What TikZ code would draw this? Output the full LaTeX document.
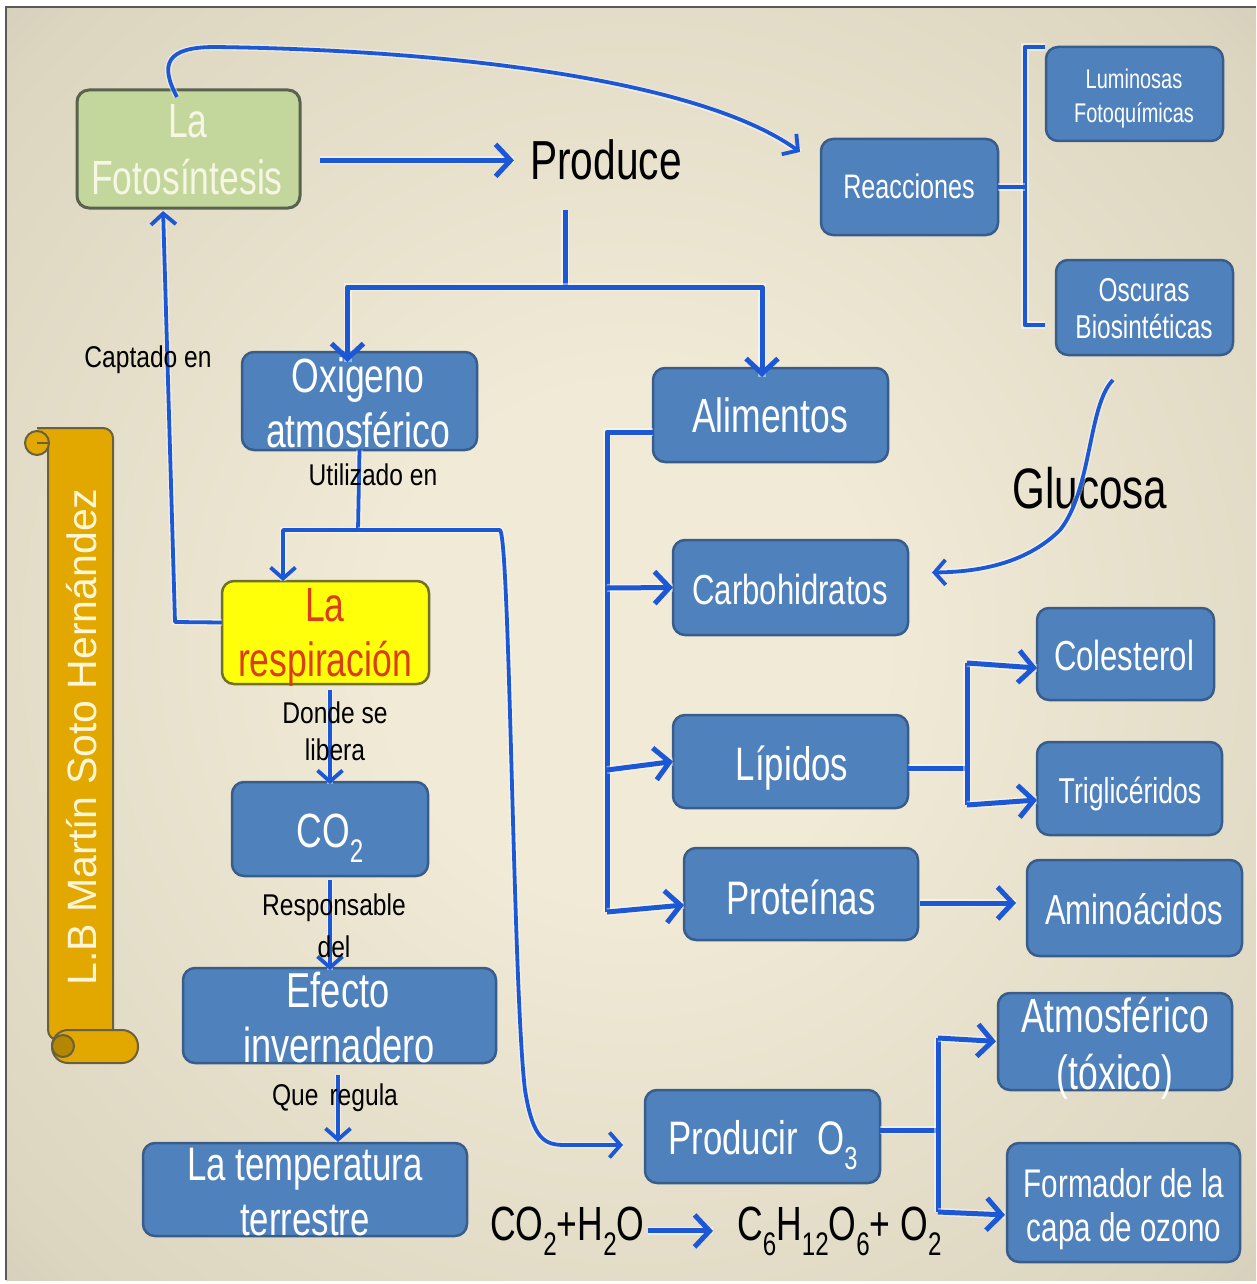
\documentclass[tikz,border=0pt]{standalone}
\usepackage{fontspec}
\usepackage{graphicx}
\setmainfont{Liberation Sans}
\newfontfamily\bxf[FakeStretch=0.74]{Liberation Sans}
\newfontfamily\lbf[FakeStretch=0.82]{Liberation Sans}
\usetikzlibrary{arrows.meta}
\definecolor{boxblue}{RGB}{79,129,189}
\definecolor{boxline}{RGB}{56,93,138}
\definecolor{grfill}{RGB}{195,214,155}
\definecolor{grline}{RGB}{88,98,78}
\definecolor{grtext}{RGB}{246,246,228}
\definecolor{yefill}{RGB}{255,255,10}
\definecolor{yeline}{RGB}{112,112,40}
\definecolor{redtext}{RGB}{218,62,22}
\definecolor{arrowblue}{RGB}{28,88,214}
\definecolor{bgc}{RGB}{240,234,214}
\definecolor{bgm}{RGB}{220,213,192}
\definecolor{bge}{RGB}{174,169,156}
\definecolor{gold}{RGB}{226,168,0}
\definecolor{goldline}{RGB}{105,96,64}
\definecolor{scrolltxt}{RGB}{255,246,215}
\pgfdeclareradialshading{bgsh}{\pgfpoint{0bp}{0bp}}{color(0bp)=(bgc); color(10bp)=(bgc); color(33bp)=(bgm); color(55bp)=(bge); color(75bp)=(bge)}
\newcommand\fs[1]{\fontsize{#1pt}{#1pt}\selectfont}
\newcommand\dn[1]{\raisebox{-0.32em}{\scalebox{0.68}{#1}}}
\newcommand\mkbox[6]{\node[#1, minimum width={#5pt-#3pt}, minimum height={#6pt-#4pt}] (#2) at ({(#3+#5)/2},{(#4+#6)/2}) {};}
\tikzset{
  bluebox/.style={draw=boxline, fill=boxblue, line width=2.5pt, rounded corners=12pt, inner sep=0pt, outer sep=0pt},
  greenbox/.style={bluebox, draw=grline, fill=grfill, line width=3pt},
  yellowbox/.style={bluebox, draw=yeline, fill=yefill},
  btx/.style={anchor=base, inner sep=0pt, text=white, font=\bxf},
  lbl/.style={anchor=base, inner sep=0pt, text=black, font=\lbf\fs{30}},
  glow/.style={preaction={draw=white, draw opacity=0.45, line width=#1, -}},
  conn/.style={draw=arrowblue, line width=5pt, line join=round, glow=8pt},
  connarr/.style={conn, -{Straight Barb[length=15pt,width=32pt]}},
  thinc/.style={draw=arrowblue, line width=3.8pt, line join=round, glow=6.5pt},
  thinarr/.style={thinc, -{Straight Barb[length=11pt,width=25pt]}},
  scrollst/.style={draw=goldline, fill=gold, line width=2pt},
}
\begin{document}
\begin{tikzpicture}[x=1pt,y=-1pt]
% background
\fill[white] (0,0) rectangle (1256,1284);
\shade[shading=bgsh] (6,7) rectangle (1256,1280);
\draw[line width=1.5pt, black!65] (6,1280) -- (6,7) -- (1256,7);

% scroll
\draw[scrollst, rounded corners=10pt] (37,428) -- (113,428) -- (113,1040) -- (48,1040) -- (48,445);
\draw[scrollst] (37,443) circle (12pt);
\draw[goldline, line width=1.5pt] (37,443) -- (48,443);
\draw[scrollst, rounded corners=16pt] (52,1030) rectangle (138,1063);
\draw[scrollst, fill=gold!80!black] (63,1046) circle (11pt);
\node[rotate=90, inner sep=0pt, text=scrolltxt, font=\fs{41}] (auth) at (82,737) {L.B Martín Soto Hernández};

% boxes
\mkbox{greenbox}{fot}{77}{90}{300}{208}
\mkbox{bluebox}{reac}{821}{139}{998}{235}
\mkbox{bluebox}{lum}{1046}{47}{1223}{141}
\mkbox{bluebox}{osc}{1056}{260}{1233}{355}
\mkbox{bluebox}{oxi}{242}{352}{477}{450}
\mkbox{bluebox}{ali}{653}{368}{888}{462}
\mkbox{bluebox}{car}{673}{540}{908}{635}
\mkbox{bluebox}{lip}{673}{715}{908}{808}
\mkbox{bluebox}{pro}{684}{848}{918}{940}
\mkbox{bluebox}{col}{1037}{608}{1214}{700}
\mkbox{bluebox}{tri}{1037}{742}{1222}{835}
\mkbox{bluebox}{ami}{1027}{860}{1242}{956}
\mkbox{yellowbox}{res}{222}{581}{429}{684}
\mkbox{bluebox}{cod}{232}{782}{428}{876}
\mkbox{bluebox}{efe}{183}{968}{496}{1063}
\mkbox{bluebox}{tem}{143}{1143}{467}{1236}
\mkbox{bluebox}{poz}{645}{1090}{880}{1183}
\mkbox{bluebox}{atm}{998}{993}{1232}{1090}
\mkbox{bluebox}{frm}{1007}{1143}{1240}{1262}

% box texts
\node[btx, text=grtext] (fot-a) at (188,138) {\fs{48}La};
\node[btx, text=grtext] (fot-b) at (187,195) {\fs{48}Fotosíntesis};
\node[btx, text=black] (produce) at (606,180) {\fs{55}Produce};
\node[btx] (reac-a) at (909,199) {\fs{34}Reacciones};
\node[btx] (lum-a) at (1134,89) {\fs{27}Luminosas};
\node[btx] (lum-b) at (1134,123) {\fs{27}Fotoquímicas};
\node[btx] (osc-a) at (1144,301) {\fs{33}Oscuras};
\node[btx] (osc-b) at (1144,338) {\fs{33}Biosintéticas};
\node[btx] (oxi-a) at (358,392) {\fs{48}Oxigeno};
\node[btx] (oxi-b) at (358,447) {\fs{48}atmosférico};
\node[btx] (ali-a) at (770,432) {\fs{48}Alimentos};
\node[btx] (car-a) at (790,604) {\fs{42}Carbohidratos};
\node[btx] (lip-a) at (792,780) {\fs{47}Lípidos};
\node[btx] (pro-a) at (801,914) {\fs{47}Proteínas};
\node[btx] (col-a) at (1124,670) {\fs{42}Colesterol};
\node[btx] (tri-a) at (1130,803) {\fs{36}Triglicéridos};
\node[btx] (ami-a) at (1134,924) {\fs{42}Aminoácidos};
\node[btx, text=redtext] (res-a) at (325,621) {\fs{48}La};
\node[btx, text=redtext] (res-b) at (325,676) {\fs{48}respiración};
\node[btx] (cod-a) at (330,847) {\fs{48}CO\dn{2}};
\node[btx] (efe-a) at (338,1007) {\fs{49}Efecto};
\node[btx] (efe-b) at (339,1062) {\fs{49}invernadero};
\node[btx] (tem-a) at (305,1180) {\fs{47}La temperatura};
\node[btx] (tem-b) at (305,1235) {\fs{47}terrestre};
\node[btx] (poz-a) at (763,1154) {\fs{47}Producir\ \ O\dn{3}};
\node[btx] (atm-a) at (1115,1032) {\fs{48}Atmosférico};
\node[btx] (atm-b) at (1115,1089) {\fs{48}(tóxico)};
\node[btx] (frm-a) at (1124,1197) {\fs{40}Formador de la};
\node[btx] (frm-b) at (1124,1241) {\fs{40}capa de ozono};
\node[btx, text=black] (glu) at (1090,508) {\fs{57}Glucosa};
\node[btx, text=black, anchor=base west] (eq1) at (490,1240) {\fs{48}CO\dn{2}+H\dn{2}O};
\node[btx, text=black, anchor=base west] (eq2) at (737,1240) {\fs{48}C\dn{6}H\dn{12}O\dn{6}+ O\dn{2}};

% connectors
\coordinate (pt) at (565,210);
\coordinate (pj) at (565,287);
\coordinate (uj) at (358,530);
\coordinate (bt) at (1025,47);
\coordinate (bb) at (1025,325);
\coordinate (av0) at (607,432);
\coordinate (av1) at (607,588);
\coordinate (av2) at (607,770);
\coordinate (av3) at (607,912);
\coordinate (lv0) at (967,768);
\coordinate (lv1) at (967,663);
\coordinate (lv2) at (967,805);
\coordinate (pv0) at (938,1130);
\coordinate (pv1) at (938,1038);
\coordinate (pv2) at (938,1212);

\draw[connarr, shorten <=20pt, shorten >=16pt] (fot.east |- produce.west) -- (produce.west);
\draw[conn] (pt) -- (pj);
\draw[connarr, shorten >=-10pt] (pj) -| ([xshift=-12pt]oxi.north);
\draw[connarr, shorten >=-9pt] (pj) -| ([xshift=-8.5pt]ali.north);

% top curve to Reacciones
\draw[thinarr] ([xshift=-11.5pt,yshift=-7pt]fot.north) .. controls (160,65) and (165,47) .. (215,47) .. controls (450,50) and (700,80) .. ([xshift=-21pt,yshift=-13pt]reac.north west);

% bracket
\draw[conn, line width=4.5pt] ([xshift=-1pt]lum.north west) -- (bt) -- (bb) -- ([xshift=-11pt]bb -| osc.west);
\draw[conn, line width=4.5pt] (reac.east) -- (reac.east -| bt);

% oxigeno branches
\draw[thinarr] (oxi.south) -- (uj) -| ([xshift=-42.5pt]res.north);
\draw[thinarr, shorten >=22pt] (uj) -- (500,530) .. controls (510,540) and (513,990) .. (525,1090) .. controls (533,1140) and (545,1145) .. (565,1145) -- ([yshift=-8.5pt]poz.west);

% respiracion -> fotosintesis
\draw[thinarr, shorten >=3pt] ([yshift=10pt]res.west) -- (175,622) -- ([xshift=-25.5pt]fot.south);

% chain
\draw[thinarr, shorten <=6pt, shorten >=-2pt] (cod.north |- res.south) -- (cod.north);
\draw[thinarr, shorten <=4pt, shorten >=-2pt] (cod.south) -- (efe.north -| cod.south);
\draw[thinarr, shorten <=12pt, shorten >=1pt] ([xshift=-1.5pt]efe.south) -- (tem.north -| 338,0);

% alimentos
\draw[conn] ([yshift=-17pt]ali.west) -- (av0) -- (av3);
\draw[connarr] (av1) -- (car.west);
\draw[connarr] (av2) -- (lip.west);
\draw[connarr] (av3) -- ([yshift=-11pt]pro.west);

% lipidos
\draw[conn] ([yshift=-6.5pt]lip.east) -- (lv0);
\draw[conn] (lv1) -- (lv2);
\draw[connarr] (lv1) -- ([yshift=-14pt]col.west);
\draw[connarr] (lv2) -- ([yshift=-11.5pt]tri.west);

% proteinas
\draw[connarr, shorten <=2pt, shorten >=11pt] ([yshift=-9pt]pro.east) -- ([yshift=5pt]ami.west);

% producir O3
\draw[conn] ([yshift=6.5pt]poz.east) -- (pv0);
\draw[conn] (pv1) -- (pv2);
\draw[connarr, shorten >=2pt] (pv1) -- (atm.west);
\draw[connarr, shorten >=2pt] (pv2) -- ([yshift=-12.5pt]frm.west);

% glucosa curve
\draw[thinarr] ([xshift=-31.5pt,yshift=-25pt]osc.south) .. controls (1088,405) and (1092,490) .. (1060,530) .. controls (1025,565) and (975,572) .. ([xshift=24pt,yshift=15pt]car.east);

% equation arrow
\draw[connarr, shorten <=3pt, shorten >=24pt] (eq1.east) -- (eq1.east -| eq2.west);

% labels
\node[lbl] (lab1) at (148,367) {Captado en};
\node[lbl] (lab2) at (373,485) {Utilizado en};
\node[lbl] (lab3) at (335,723) {Donde se};
\node[lbl] (lab4) at (335,760) {libera};
\node[lbl] (lab5) at (334,915) {Responsable};
\node[lbl] (lab6) at (334,957) {del};
\node[lbl] (lab7) at (335,1105) {Que\hspace{11pt}regula};
\end{tikzpicture}
\end{document}
